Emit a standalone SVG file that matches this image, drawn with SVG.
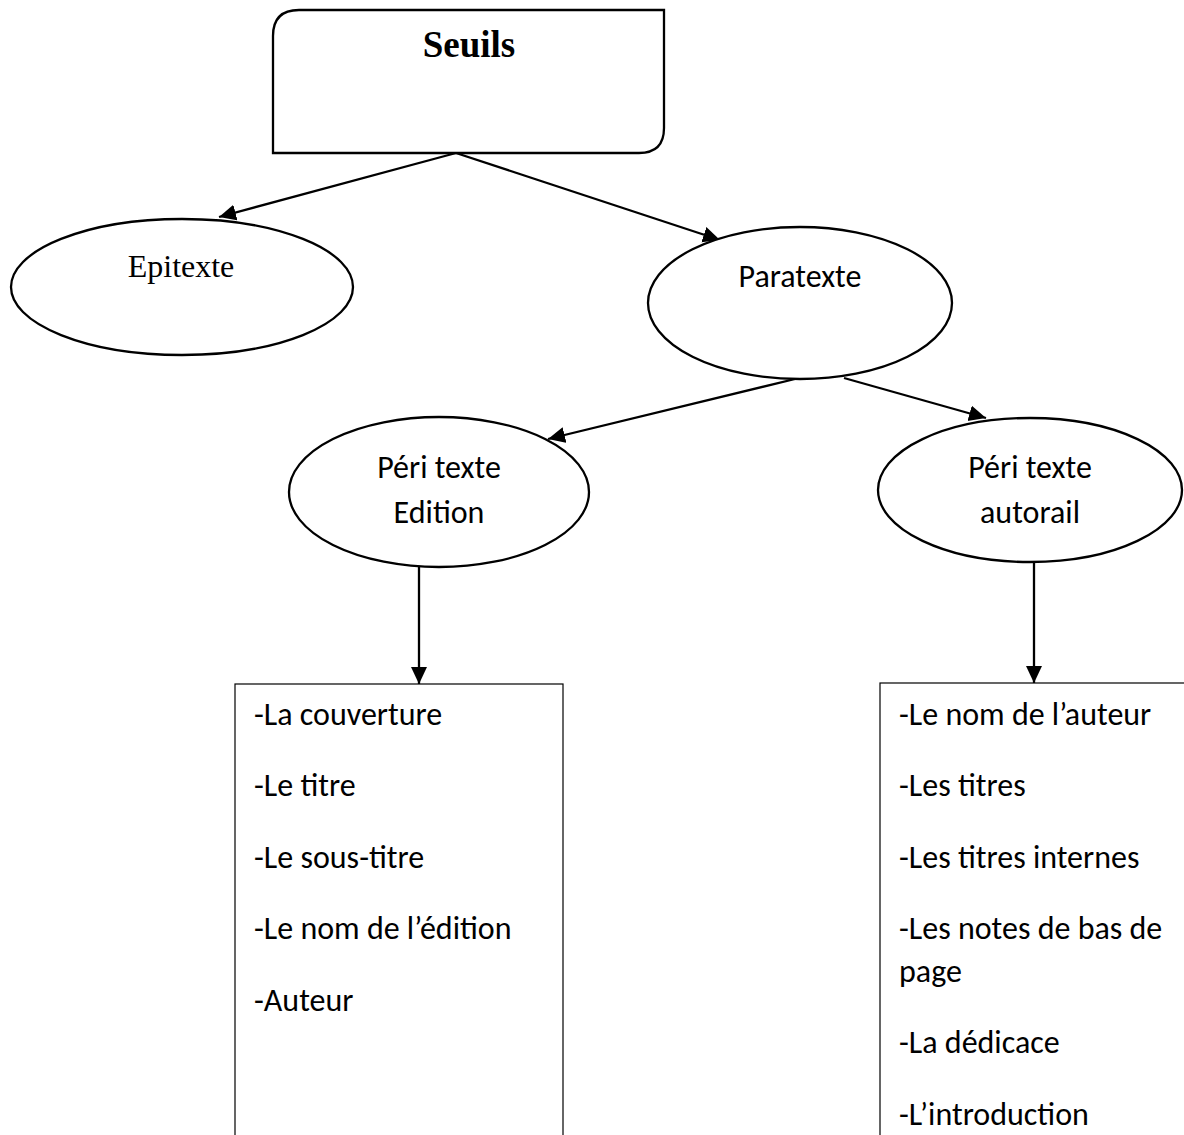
<svg xmlns="http://www.w3.org/2000/svg" width="1184" height="1135" viewBox="0 0 1184 1135">
<defs>
<style>
.shape{fill:#fff;stroke:#000;stroke-width:2.3}
.box{fill:#fff;stroke:#000;stroke-width:1.2}
.conn{stroke:#000;stroke-width:2.3;fill:none;marker-end:url(#arr)}
.sans{font-family:Carlito,Lato,"Open Sans",sans-serif;font-size:32px;fill:#000}
.serif{font-family:"Liberation Serif","Times New Roman",serif;fill:#000}
.mid{text-anchor:middle}
</style>
<marker id="arr" markerUnits="userSpaceOnUse" markerWidth="20" markerHeight="18" refX="17" refY="8" orient="auto">
<path d="M0,0 L17,8 L0,16 Z" fill="#000"/>
</marker>
</defs>
<rect width="1184" height="1135" fill="#fff"/>
<g id="connectors">
<line class="conn" x1="456" y1="153" x2="219" y2="217"/>
<line class="conn" x1="456" y1="153" x2="720" y2="240"/>
<line class="conn" x1="795" y1="379" x2="548" y2="439"/>
<line class="conn" x1="844" y1="378" x2="986" y2="418"/>
<line class="conn" x1="419" y1="567" x2="419" y2="684"/>
<line class="conn" x1="1034" y1="562" x2="1034" y2="683"/>
</g>
<g id="seuils">
<path class="shape" d="M299,10 H664 V128 Q664,153 639,153 H273 V36 Q273,10 299,10 Z"/>
<text class="serif mid" x="469" y="57" font-size="37" font-weight="bold">Seuils</text>
</g>
<g id="epitexte">
<ellipse class="shape" cx="182" cy="287" rx="171" ry="68"/>
<text class="serif mid" x="181" y="277" font-size="32">Epitexte</text>
</g>
<g id="paratexte">
<ellipse class="shape" cx="800" cy="303" rx="152" ry="76"/>
<text class="sans mid" x="800" y="287">Paratexte</text>
</g>
<g id="peritexte-edition">
<ellipse class="shape" cx="439" cy="492" rx="150" ry="75"/>
<text class="sans mid" x="439" y="478">Péri texte</text>
<text class="sans mid" x="439" y="523">Edition</text>
</g>
<g id="peritexte-autorail">
<ellipse class="shape" cx="1030" cy="490" rx="152" ry="72"/>
<text class="sans mid" x="1030" y="478">Péri texte</text>
<text class="sans mid" x="1030" y="523">autorail</text>
</g>
<g id="liste-edition">
<rect class="box" x="235" y="684" width="328" height="470"/>
<text class="sans" x="254" y="725">-La couverture</text>
<text class="sans" x="254" y="796">-Le titre</text>
<text class="sans" x="254" y="868">-Le sous-titre</text>
<text class="sans" x="254" y="939">-Le nom de l’édition</text>
<text class="sans" x="254" y="1011">-Auteur</text>
</g>
<g id="liste-autorail">
<rect class="box" x="880" y="683" width="330" height="470"/>
<text class="sans" x="899" y="725">-Le nom de l’auteur</text>
<text class="sans" x="899" y="796">-Les titres</text>
<text class="sans" x="899" y="868">-Les titres internes</text>
<text class="sans" x="899" y="939">-Les notes de bas de</text>
<text class="sans" x="899" y="982">page</text>
<text class="sans" x="899" y="1053">-La dédicace</text>
<text class="sans" x="899" y="1125">-L’introduction</text>
</g>
</svg>
